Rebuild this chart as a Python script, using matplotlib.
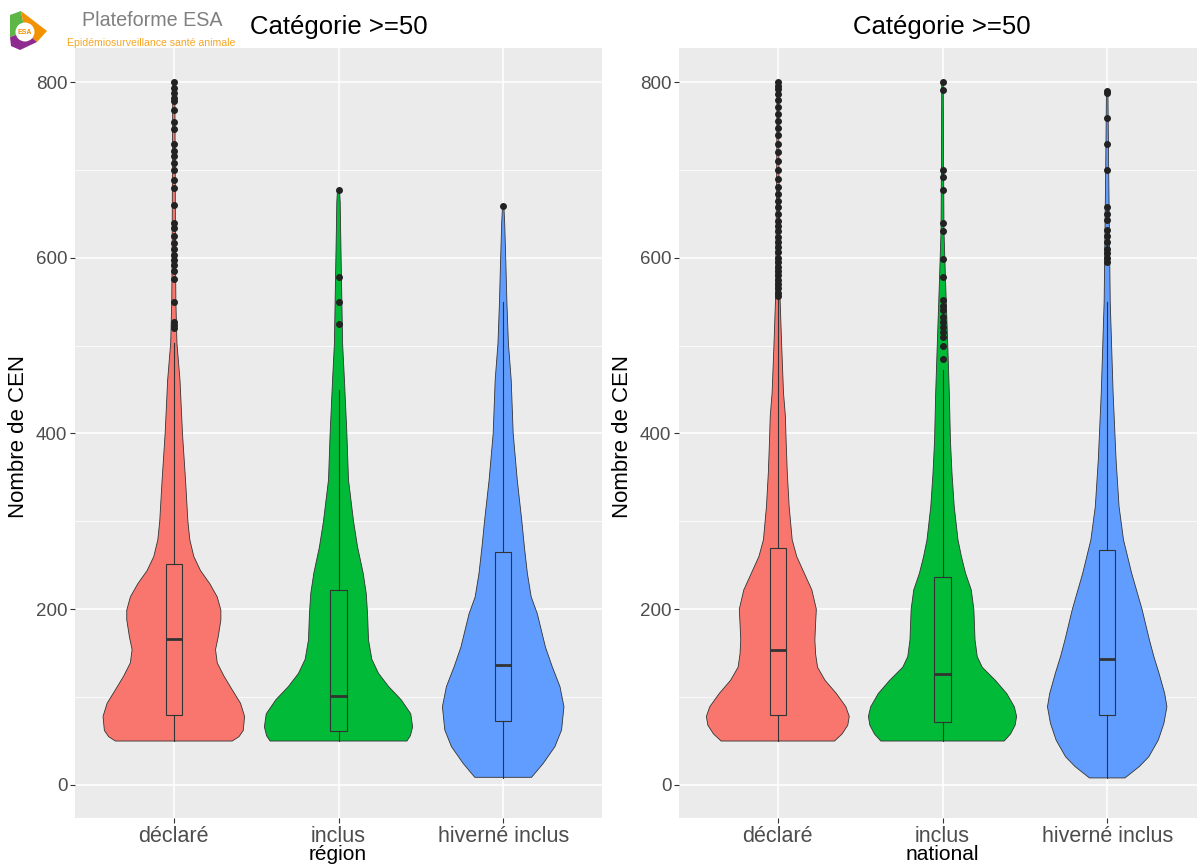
import numpy as np
import matplotlib
matplotlib.use("Agg")
from matplotlib import pyplot as plt
from matplotlib.patches import Polygon, Circle

plt.rcParams['font.family'] = ['Liberation Sans', 'DejaVu Sans']

categories = ["déclaré", "inclus", "hiverné inclus"]
colors = ["#F8766D", "#00BA38", "#619CFF"]

# violin profiles: value levels and relative half-width (1 = widest violin of the panel)
reg_declare_v = [50, 55, 62, 78, 93, 108, 124, 139, 154, 169, 188, 199, 214, 229, 244, 260, 279, 300, 347,
                 400, 461, 503, 550, 600, 700, 800]
reg_declare_w = [0.788, 0.88, 0.937, 0.955, 0.90, 0.79, 0.676, 0.586, 0.563, 0.60, 0.635, 0.635, 0.586,
                 0.486, 0.36, 0.27, 0.216, 0.19, 0.158, 0.117, 0.083, 0.042, 0.028, 0.023, 0.019, 0.014]
reg_inclus_v = [50, 56, 66, 81, 97, 112, 127, 143, 165, 195, 218, 241, 271, 300, 347, 400, 461, 503, 578,
                635, 663, 677]
reg_inclus_w = [0.923, 0.97, 1.0, 0.975, 0.845, 0.676, 0.54, 0.45, 0.405, 0.392, 0.374, 0.333, 0.257,
                0.203, 0.135, 0.113, 0.08, 0.055, 0.04, 0.028, 0.023, 0.014]
reg_hiverne_v = [8.7, 24.5, 43.6, 62.6, 89, 112, 135, 157, 195, 214, 241, 271, 300, 347, 400, 461, 503,
                 550, 597, 640, 659]
reg_hiverne_w = [0.383, 0.54, 0.698, 0.788, 0.82, 0.766, 0.66, 0.57, 0.46, 0.378, 0.326, 0.286, 0.252,
                 0.19, 0.135, 0.108, 0.07, 0.05, 0.035, 0.02, 0.009]

nat_declare_v = [50, 58, 68, 78, 89, 104, 119, 134, 149, 165, 184, 200, 222, 241, 260, 279, 317, 355, 392,
                 420, 446, 503, 552, 600, 700, 800]
nat_declare_w = [0.765, 0.867, 0.944, 0.964, 0.918, 0.791, 0.638, 0.536, 0.510, 0.500, 0.510, 0.520, 0.459,
                 0.357, 0.255, 0.194, 0.153, 0.128, 0.112, 0.102, 0.077, 0.051, 0.031, 0.026, 0.015, 0.010]
nat_inclus_v = [50, 58, 68, 78, 89, 104, 119, 134, 146, 165, 200, 222, 241, 260, 279, 317, 355, 392, 446,
                500, 574, 630, 700, 800]
nat_inclus_w = [0.832, 0.918, 0.980, 1.0, 0.969, 0.867, 0.714, 0.536, 0.469, 0.439, 0.423, 0.388, 0.311,
                0.255, 0.209, 0.158, 0.128, 0.107, 0.092, 0.071, 0.041, 0.020, 0.015, 0.010]
nat_hiverne_v = [8, 21, 32, 51, 70, 89, 104, 127, 146, 165, 200, 241, 279, 317, 370, 446, 550, 700, 790]
nat_hiverne_w = [0.240, 0.434, 0.561, 0.689, 0.765, 0.806, 0.776, 0.70, 0.63, 0.57, 0.47, 0.33, 0.22,
                 0.16, 0.12, 0.08, 0.041, 0.020, 0.010]

# box stats: whisker low, q1, median, q3, whisker high
reg_box = [(50, 80, 166, 252, 503), (50, 61, 101, 222, 450), (8, 73, 137, 265, 550)]
nat_box = [(50, 80, 154, 270, 553), (50, 72, 126, 237, 472), (8, 80, 143, 267, 550)]

reg_outliers = [
    [520, 523, 527, 550, 576, 585, 592, 597, 603, 610, 617, 625, 634, 640, 660, 679, 688, 700, 708, 716,
     722, 730, 747, 755, 768, 778, 782, 787, 793, 800],
    [525, 550, 578, 677],
    [659],
]
nat_outliers = [
    [556, 560, 565, 570, 575, 580, 585, 590, 595, 600, 606, 612, 618, 624, 630, 636, 642, 650, 658, 665,
     672, 680, 690, 700, 710, 720, 730, 740, 748, 756, 764, 772, 780, 786, 792, 796, 800],
    [485, 500, 510, 515, 521, 527, 533, 540, 545, 552, 578, 599, 630, 639, 677, 692, 700, 791, 800],
    [595, 600, 605, 610, 618, 625, 632, 643, 650, 658, 700, 730, 759, 787, 790],
]

reg_profiles = [(reg_declare_v, reg_declare_w), (reg_inclus_v, reg_inclus_w), (reg_hiverne_v, reg_hiverne_w)]
nat_profiles = [(nat_declare_v, nat_declare_w), (nat_inclus_v, nat_inclus_w), (nat_hiverne_v, nat_hiverne_w)]

W, H = 1197, 867
fig = plt.figure(figsize=(W / 100, H / 100), dpi=100)
fig.patch.set_facecolor("white")


def draw_panel(ax, profiles, boxes, outliers):
    ax.set_facecolor("#EBEBEB")
    for s in ax.spines.values():
        s.set_visible(False)
    for i, (v, w) in enumerate(profiles):
        pos = i + 1
        v = np.array(v, float)
        hw = 0.45 * np.array(w, float)
        xs = np.concatenate([pos - hw, (pos + hw)[::-1]])
        ys = np.concatenate([v, v[::-1]])
        ax.fill(xs, ys, facecolor=colors[i], edgecolor="#333333", lw=0.6, zorder=2)
    stats = []
    for b, out in zip(boxes, outliers):
        stats.append(dict(whislo=b[0], q1=b[1], med=b[2], q3=b[3], whishi=b[4], fliers=out))
    bp = ax.bxp(stats, positions=[1, 2, 3], widths=0.1, patch_artist=True, showcaps=False,
                manage_ticks=False,
                boxprops=dict(edgecolor="#333333", lw=0.8),
                whiskerprops=dict(color="#333333", lw=0.8),
                medianprops=dict(color="#333333", lw=2.0),
                flierprops=dict(marker="o", markerfacecolor="#222222", markeredgecolor="#222222",
                                markersize=4, lw=0))
    for patch, c in zip(bp["boxes"], colors):
        patch.set_facecolor(c)
        patch.set_zorder(3)
    for k in ("whiskers", "medians", "fliers"):
        for a in bp[k]:
            a.set_zorder(4)
    ax.set_xlim(0.4, 3.6)
    ax.set_ylim(-37.6, 838.7)
    ax.set_yticks([0, 200, 400, 600, 800])
    ax.set_yticks([100, 300, 500, 700], minor=True)
    ax.set_xticks([1, 2, 3])
    ax.set_xticklabels(categories)
    ax.grid(which="major", color="white", lw=1.1)
    ax.grid(which="minor", axis="y", color="white", lw=0.55)
    ax.set_axisbelow(True)
    ax.tick_params(which="major", length=3.5, width=0.8, color="#333333", labelcolor="#4D4D4D",
                   labelsize=13.5, pad=2)
    ax.tick_params(axis="x", labelsize=15.5, pad=2)
    ax.tick_params(which="minor", length=0)


ax1 = fig.add_axes([75 / W, 49 / H, 527 / W, 770 / H])
ax2 = fig.add_axes([679 / W, 49 / H, 527 / W, 770 / H])
draw_panel(ax1, reg_profiles, reg_box, reg_outliers)
draw_panel(ax2, nat_profiles, nat_box, nat_outliers)

# titles and axis labels
fig.text(339 / W, 1 - 27 / H, "Catégorie >=50", ha="center", va="center", fontsize=18.5, color="black")
fig.text(942 / W, 1 - 27 / H, "Catégorie >=50", ha="center", va="center", fontsize=18.5, color="black")
fig.text(19 / W, 1 - 437 / H, "Nombre de CEN", rotation=90, ha="center", va="center", fontsize=16)
fig.text(623 / W, 1 - 437 / H, "Nombre de CEN", rotation=90, ha="center", va="center", fontsize=16)
fig.text(338 / W, 1 - 855 / H, "région", ha="center", va="center", fontsize=15)
fig.text(942 / W, 1 - 855 / H, "national", ha="center", va="center", fontsize=15)

# logo
lg = fig.add_axes([0, 1 - 56 / H, 245 / W, 56 / H])
lg.set_xlim(0, 245)
lg.set_ylim(56, 0)
lg.axis("off")
lg.add_patch(Polygon([(10, 15), (21, 11), (25, 32), (10, 37)], closed=True, fc="#5DB646", ec="none"))
lg.add_patch(Polygon([(21, 11), (47, 31), (37, 42), (25, 32)], closed=True, fc="#F39200", ec="none"))
lg.add_patch(Polygon([(10, 37), (25, 32), (37, 42), (20, 50), (11, 46)], closed=True, fc="#8E2A8F", ec="none"))
lg.add_patch(Circle((25, 32), 9.5, fc="white", ec="none"))
lg.text(25, 33, "ESA", ha="center", va="center", fontsize=5, color="#F39200", fontweight="bold")
lg.text(152, 21, "Plateforme ESA", ha="center", va="center", fontsize=14.2, color="#808080")
lg.text(151, 43, "Epidémiosurveillance santé animale", ha="center", va="center", fontsize=7.6,
        color="#F5A623")

fig.savefig("out.png", dpi=100)
